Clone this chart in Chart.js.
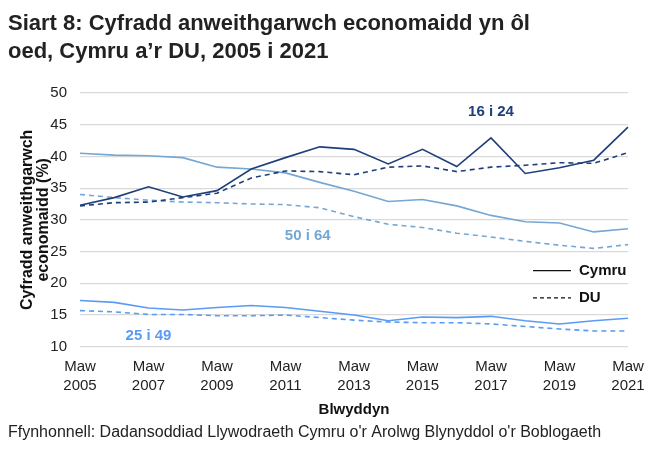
<!DOCTYPE html>
<html>
<head>
<meta charset="utf-8">
<script src="https://cdn.jsdelivr.net/npm/chart.js@4"></script>
<style>
  body { margin: 0; background: #fff; }
  #wrap { width: 658px; height: 458px; position: relative; }
</style>
</head>
<body>
<div id="wrap"><canvas id="myChart"></canvas></div>
<script>
var years = ["2005","2006","2007","2008","2009","2010","2011","2012","2013","2014","2015","2016","2017","2018","2019","2020","2021"];
var yTicks = [10, 15, 20, 25, 30, 35, 40, 45, 50];

// 16 i 24
var cymru16to24 = [32.3, 33.5, 35.2, 33.6, 34.6, 38.0, 39.8, 41.5, 41.1, 38.8, 41.1, 38.4, 42.9, 37.3, 38.2, 39.4, 44.6];
var du16to24    = [32.2, 32.7, 32.8, 33.5, 34.2, 36.6, 37.7, 37.6, 37.1, 38.3, 38.5, 37.6, 38.3, 38.6, 39.0, 38.9, 40.6];
// 50 i 64
var cymru50to64 = [40.5, 40.2, 40.1, 39.8, 38.3, 38.0, 37.4, 35.9, 34.5, 32.9, 33.2, 32.2, 30.7, 29.7, 29.5, 28.1, 28.6];
var du50to64    = [34.0, 33.5, 33.1, 32.8, 32.7, 32.5, 32.4, 31.9, 30.5, 29.3, 28.8, 27.9, 27.3, 26.6, 26.0, 25.5, 26.1];
// 25 i 49
var cymru25to49 = [17.3, 17.0, 16.1, 15.8, 16.2, 16.5, 16.2, 15.6, 15.0, 14.1, 14.7, 14.6, 14.8, 14.1, 13.6, 14.1, 14.5];
var du25to49    = [15.7, 15.5, 15.1, 15.1, 14.9, 14.9, 15.0, 14.6, 14.2, 13.9, 13.8, 13.8, 13.6, 13.2, 12.8, 12.5, 12.5];

// series names placed by year / value
var seriesLabels = [
  { text: "16 i 24", year: 2017,    value: 47.0, color: "#1f3f7a" },
  { text: "50 i 64", year: 2011.65, value: 27.5, color: "#74a7d4" },
  { text: "25 i 49", year: 2007,    value: 11.7, color: "#5a9bf5" }
];

var navy = "#1f3f7a", steel = "#74a7d4", bright = "#5a9bf5";
var FONT = "'Liberation Sans', Arial, sans-serif";

function line(label, data, color, dashed) {
  return {
    label: label, data: data, borderColor: color, backgroundColor: color,
    borderWidth: 1.6, borderDash: dashed ? [5, 4] : [], pointRadius: 0,
    tension: 0, fill: false
  };
}

// y axis title, series names and the Cymru / DU key
var annotate = {
  id: 'annotate',
  afterDatasetsDraw: function(chart) {
    var c = chart.ctx, xs = chart.scales.x, ys = chart.scales.y, a = chart.chartArea;
    c.save();
    c.textAlign = 'center';
    c.textBaseline = 'middle';

    c.save();
    c.translate(36, (a.top + a.bottom) / 2);
    c.rotate(-Math.PI / 2);
    c.fillStyle = "#111";
    c.font = "bold 16px " + FONT;
    c.fillText("Cyfradd anweithgarwch", 0, -8);
    c.fillText("economaidd (%)", 0, 8);
    c.restore();

    c.font = "bold 15px " + FONT;
    seriesLabels.forEach(function(s) {
      c.fillStyle = s.color;
      c.fillText(s.text, xs.getPixelForValue(s.year - 2005), ys.getPixelForValue(s.value));
    });

    var kx = a.right - 95;
    var keys = [{ t: "Cymru", dash: [], v: 22.0 }, { t: "DU", dash: [4, 3], v: 17.7 }];
    keys.forEach(function(k) {
      var y = ys.getPixelForValue(k.v);
      c.strokeStyle = "#111";
      c.lineWidth = 1.3;
      c.setLineDash(k.dash);
      c.beginPath(); c.moveTo(kx, y); c.lineTo(kx + 38, y); c.stroke();
      c.setLineDash([]);
      c.fillStyle = "#111";
      c.textAlign = 'left';
      c.fillText(k.t, kx + 46, y);
    });
    c.restore();
  }
};

var ctx = document.getElementById('myChart').getContext('2d');
var chart = new Chart(ctx, {
  type: 'line',
  data: {
    labels: years,
    datasets: [
      line("16 i 24 Cymru", cymru16to24, navy, false),
      line("16 i 24 DU", du16to24, navy, true),
      line("50 i 64 Cymru", cymru50to64, steel, false),
      line("50 i 64 DU", du50to64, steel, true),
      line("25 i 49 Cymru", cymru25to49, bright, false),
      line("25 i 49 DU", du25to49, bright, true)
    ]
  },
  options: {
    responsive: true,
    maintainAspectRatio: false,
    animation: false,
    layout: { padding: { left: 8, right: 30, top: 0, bottom: 6 } },
    plugins: {
      legend: { display: false },
      tooltip: { enabled: false },
      title: {
        display: true,
        align: 'start',
        text: ["Siart 8: Cyfradd anweithgarwch economaidd yn ôl", "oed, Cymru a\u2019r DU, 2005 i 2021"],
        color: "#222",
        font: { family: FONT, size: 22, weight: 'bold', lineHeight: 1.27 },
        padding: { top: 10, bottom: 27 }
      },
      subtitle: {
        display: true,
        position: 'bottom',
        align: 'start',
        text: "Ffynhonnell: Dadansoddiad Llywodraeth Cymru o'r Arolwg Blynyddol o'r Boblogaeth",
        color: "#222",
        font: { family: FONT, size: 16, lineHeight: 1.2 },
        padding: { top: 4, bottom: 10 }
      }
    },
    scales: {
      x: {
        offset: false,
        afterFit: function(s) { s.height = 72; },
        grid: { display: false },
        border: { display: false },
        ticks: {
          autoSkip: false,
          maxRotation: 0,
          color: "#222",
          font: { family: FONT, size: 15, lineHeight: 1.3 },
          padding: 2,
          callback: function(v, i) { return i % 2 === 0 ? ["Maw", years[i]] : ""; }
        },
        title: {
          display: true,
          text: "Blwyddyn",
          color: "#111",
          font: { family: FONT, size: 15, weight: 'bold', lineHeight: 1.2 },
          padding: { top: 5, bottom: 0 }
        }
      },
      y: {
        min: 10, max: 50,
        afterBuildTicks: function(s) { s.ticks = yTicks.map(function(v) { return { value: v }; }); },
        afterFit: function(s) { s.width = 72; },
        grid: { color: "#d9d9d9", lineWidth: 1.2, drawTicks: false },
        border: { display: false },
        ticks: {
          color: "#222",
          font: { family: FONT, size: 15 },
          padding: 13
        }
      }
    }
  },
  plugins: [annotate]
});
</script>
</body>
</html>
